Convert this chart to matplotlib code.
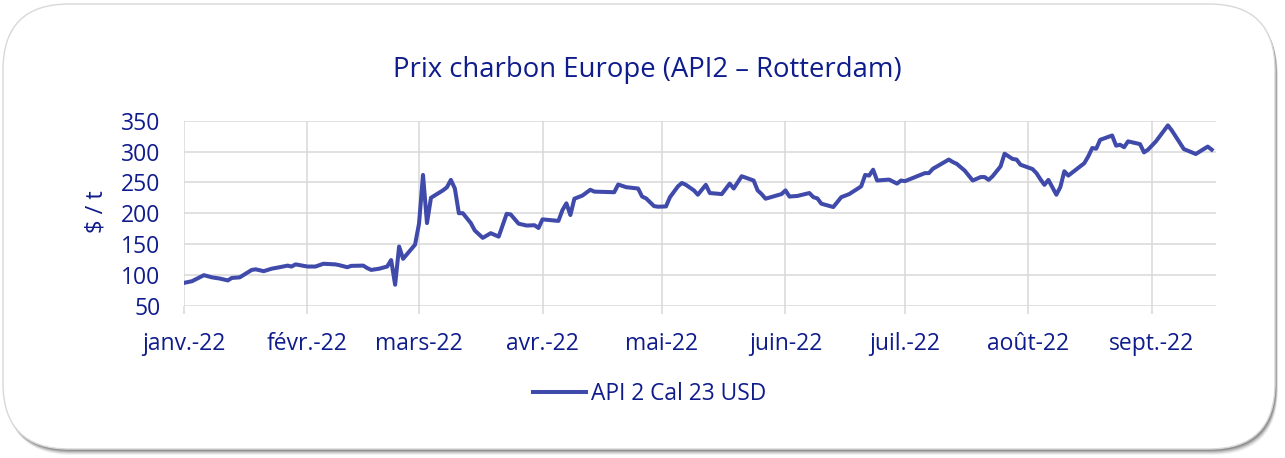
import matplotlib
matplotlib.use("Agg")
import matplotlib.pyplot as plt
import matplotlib.transforms as mtransforms
from matplotlib.patches import FancyBboxPatch
import pandas as pd

# ---------------- data ----------------
dates = [
    "2022-01-01", "2022-01-03", "2022-01-06", "2022-01-08", "2022-01-10", "2022-01-12",
    "2022-01-13", "2022-01-15", "2022-01-18", "2022-01-19", "2022-01-21", "2022-01-23",
    "2022-01-25", "2022-01-27", "2022-01-28", "2022-01-29", "2022-02-01", "2022-02-03",
    "2022-02-05", "2022-02-08", "2022-02-09", "2022-02-11", "2022-02-12", "2022-02-15",
    "2022-02-16", "2022-02-17", "2022-02-19", "2022-02-21", "2022-02-22", "2022-02-23",
    "2022-02-24", "2022-02-25", "2022-02-28", "2022-03-01", "2022-03-02", "2022-03-03",
    "2022-03-04", "2022-03-07", "2022-03-08", "2022-03-09", "2022-03-10", "2022-03-11",
    "2022-03-12", "2022-03-14", "2022-03-15", "2022-03-17", "2022-03-19", "2022-03-21",
    "2022-03-23", "2022-03-24", "2022-03-26", "2022-03-28", "2022-03-30", "2022-03-31",
    "2022-04-01", "2022-04-05", "2022-04-06", "2022-04-07", "2022-04-08", "2022-04-09",
    "2022-04-11", "2022-04-13", "2022-04-14", "2022-04-19", "2022-04-20", "2022-04-22",
    "2022-04-25", "2022-04-26", "2022-04-27", "2022-04-29", "2022-04-30", "2022-05-02",
    "2022-05-03", "2022-05-05", "2022-05-06", "2022-05-07", "2022-05-09", "2022-05-10",
    "2022-05-12", "2022-05-13", "2022-05-16", "2022-05-18", "2022-05-19", "2022-05-21",
    "2022-05-24", "2022-05-25", "2022-05-26", "2022-05-27", "2022-05-31", "2022-06-01",
    "2022-06-02", "2022-06-04", "2022-06-07", "2022-06-08", "2022-06-09", "2022-06-10",
    "2022-06-13", "2022-06-15", "2022-06-17", "2022-06-20", "2022-06-21", "2022-06-22",
    "2022-06-23", "2022-06-24", "2022-06-27", "2022-06-29", "2022-06-30", "2022-07-01",
    "2022-07-06", "2022-07-07", "2022-07-08", "2022-07-12", "2022-07-13", "2022-07-14",
    "2022-07-16", "2022-07-18", "2022-07-20", "2022-07-21", "2022-07-22", "2022-07-23",
    "2022-07-25", "2022-07-26", "2022-07-28", "2022-07-29", "2022-07-30", "2022-08-02",
    "2022-08-03", "2022-08-04", "2022-08-05", "2022-08-06", "2022-08-08", "2022-08-09",
    "2022-08-10", "2022-08-11", "2022-08-15", "2022-08-16", "2022-08-17", "2022-08-18",
    "2022-08-19", "2022-08-22", "2022-08-23", "2022-08-24", "2022-08-25", "2022-08-26",
    "2022-08-29", "2022-08-30", "2022-08-31", "2022-09-02", "2022-09-05", "2022-09-06",
    "2022-09-08", "2022-09-09", "2022-09-12", "2022-09-15", "2022-09-16",
]
api2_cal23_usd = [
    87, 89.7, 99.5, 96, 94, 91,
    95, 96, 108, 109, 106, 110,
    112.4, 115, 113.5, 117, 113.5, 113.5,
    118, 117, 115.7, 112.4, 114.6, 115,
    111, 108, 110, 113.5, 124, 84,
    146, 126, 149, 183, 262, 184,
    225, 237, 242, 254, 240, 200,
    200, 184, 172, 160, 167.6, 162,
    199, 198, 183, 180, 180.5, 176,
    190, 187.5, 205, 216, 197, 223.5,
    228.5, 238, 235, 234, 246.5, 242.2,
    240, 227, 224, 211.5, 210.5, 211,
    226, 243.5, 249, 246, 237, 230,
    246, 232.7, 231, 248, 240, 260,
    253, 237, 231, 223.5, 231, 237,
    227, 228, 232.7, 226, 224, 215.4,
    210, 226, 231, 243.5, 262, 261,
    270.5, 253, 254.5, 248, 253, 252,
    265, 265, 272, 287, 283, 280,
    269, 253, 258.6, 258.6, 254, 260,
    276, 296.5, 288, 287, 278.6, 271.6,
    265, 255, 246, 254, 230, 242.4,
    268, 261, 281, 292, 305.7, 304.6,
    319, 326, 309.5, 311, 307, 316.5,
    312, 298.6, 303, 316.5, 342.4, 334,
    314, 304, 296, 308, 303,
]
series_name = "API 2 Cal 23 USD"
month_labels = ["janv.-22", "févr.-22", "mars-22", "avr.-22", "mai-22",
                "juin-22", "juil.-22", "août-22", "sept.-22"]
y_ticks = [50, 100, 150, 200, 250, 300, 350]
title = "Prix charbon Europe (API2 – Rotterdam)"
y_label = "$ / t"

# ---------------- style ----------------
W, H = 1285, 458
DPI = 100
TEXT = "#0f1c8c"
LINE = "#3f4aaa"
GRID = "#d9d9d9"
FONT = ["Open Sans", "DejaVu Sans"]
plt.rcParams["font.family"] = FONT

fig = plt.figure(figsize=(W / DPI, H / DPI), dpi=DPI)
fig.patch.set_facecolor("white")

# pixel-space transform (origin top-left)
px = mtransforms.Affine2D().scale(1 / W, -1 / H).translate(0, 1) + fig.transFigure

# rounded frame with soft shadow
for i, a in enumerate([0.05, 0.07, 0.10, 0.13, 0.17]):
    off = 5 - i
    sh = FancyBboxPatch((4 + off * 0.4, 5 + off), 1272, 445,
                        boxstyle="round,pad=0,rounding_size=66",
                        transform=px, facecolor="black", edgecolor="none",
                        alpha=a, zorder=0)
    fig.patches.append(sh)
frame = FancyBboxPatch((3, 4), 1272, 445, boxstyle="round,pad=0,rounding_size=66",
                       transform=px, facecolor="white", edgecolor="#d8d8d8",
                       linewidth=1.0, zorder=1)
fig.patches.append(frame)

x_left, x_right, y_top, y_bot = 184, 1215.7, 120.7, 305.7
ax = fig.add_axes([x_left / W, 1 - y_bot / H, (x_right - x_left) / W, (y_bot - y_top) / H])
ax.set_facecolor("none")
ax.set_zorder(2)

x = pd.to_datetime(dates)
ax.plot(x, api2_cal23_usd, color=LINE, linewidth=2.9, solid_joinstyle="round",
        label=series_name, zorder=3)

ax.set_ylim(50, 350)
ax.set_yticks(y_ticks)
ax.set_xlim(pd.Timestamp("2022-01-01"), pd.Timestamp("2022-09-17"))
month_starts = pd.date_range("2022-01-01", periods=len(month_labels), freq="MS")
ax.set_xticks(month_starts)
ax.set_xticklabels(month_labels)

ax.grid(True, color=GRID, linewidth=1.1)
ax.set_axisbelow(True)
for s in ax.spines.values():
    s.set_visible(False)
ax.tick_params(axis="x", length=6, width=1.1, color=GRID, pad=13,
               labelsize=16.5, labelcolor=TEXT)
ax.tick_params(axis="y", length=0, pad=17, labelsize=16.5, labelcolor=TEXT)

fig.text(647 / W, 1 - 70 / H, title, ha="center", va="center",
         fontsize=19.8, color=TEXT, zorder=5)
fig.text(97 / W, 1 - 212 / H, y_label, ha="center", va="center", rotation=90,
         fontsize=17, color=TEXT, zorder=5)

leg = fig.legend(loc="center", bbox_to_anchor=(650 / W, 1 - 394 / H), frameon=False,
                 fontsize=16.4, handlelength=2.3, handletextpad=0.25)
for t in leg.get_texts():
    t.set_color(TEXT)

fig.savefig("out.png", dpi=DPI, facecolor="white")
